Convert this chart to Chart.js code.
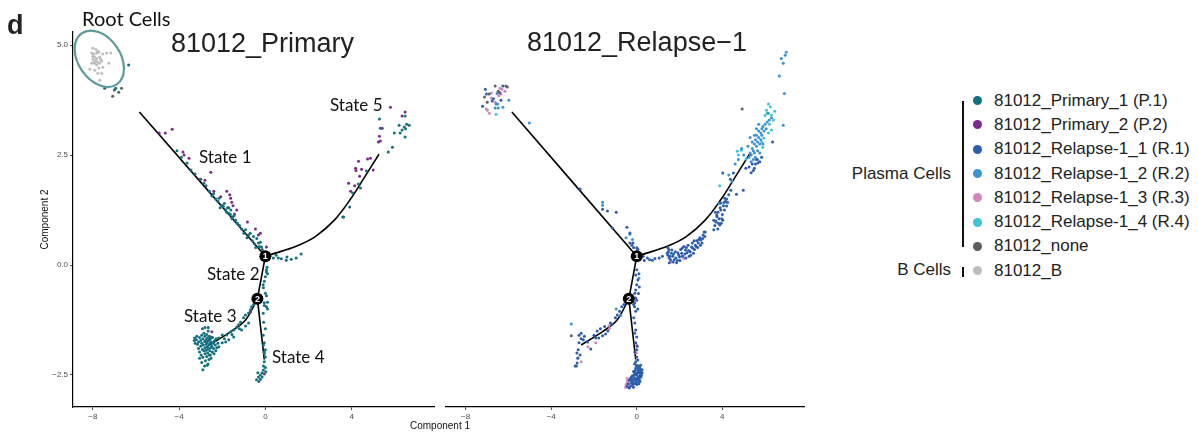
<!DOCTYPE html>
<html>
<head>
<meta charset="utf-8">
<script src="https://cdn.jsdelivr.net/npm/chart.js@4.4.1/dist/chart.umd.min.js"></script>
<style>
  body { margin: 0; background: #fff; overflow: hidden; }
  #fig { position: relative; width: 1199px; height: 436px; font-family: 'Liberation Sans', Arial, sans-serif; color: #1a1a1a; }
  canvas { position: absolute; top: 0; }
  #chartPrimary { left: 0; }
  #chartRelapse { left: 440px; }
  .t { position: absolute; white-space: nowrap; line-height: 1; }
  .myr { font-family: Lato, 'Open Sans', sans-serif; color: #111; }
  .panel-title { font-size: 27px; color: #222; }
  .state { font-size: 17px; }
  .leg { font-size: 17px; color: #222; }
  .dot { position: absolute; width: 9px; height: 9px; border-radius: 50%; }
  .bar { position: absolute; background: #111; width: 1.5px; }
</style>
</head>
<body>
<div id="fig">
  <canvas id="chartPrimary" width="440" height="436"></canvas>
  <canvas id="chartRelapse" width="370" height="436"></canvas>

  <div class="t" style="left:7px;top:12px;font-size:27px;font-weight:bold;color:#222;">d</div>
  <div class="t myr" style="left:82px;top:8px;font-size:20px;">Root Cells</div>
  <div class="t panel-title" style="left:171px;top:30px;">81012_Primary</div>
  <div class="t panel-title" style="left:527px;top:29px;">81012_Relapse−1</div>

  <div class="t myr state" style="left:199px;top:148px;">State 1</div>
  <div class="t myr state" style="left:330px;top:96px;">State 5</div>
  <div class="t myr state" style="left:207px;top:265px;">State 2</div>
  <div class="t myr state" style="left:184px;top:307px;">State 3</div>
  <div class="t myr state" style="left:272px;top:348px;">State 4</div>

  <div class="t" style="left:410px;top:421px;font-size:10px;color:#111;">Component 1</div>

  <div id="legend"></div>
</div>

<script>
// ---- data (Component 1, Component 2) ----
const xTicks = [-8, -4, 0, 4];
const yTicks = [-2.5, 0, 2.5, 5];

// trajectory tree (same for both panels)
const treeState1 = [[-5.84, 3.48], [0, 0.2]];
const treeState5 = [[0, 0.2], [0.46, 0.27], [1.4, 0.42], [2.3, 0.64], [3.2, 1.02], [3.95, 1.5], [4.6, 2.0], [5.27, 2.52]];
const treeState2 = [[0, 0.2], [-0.37, -0.77]];
const treeState3 = [[-0.37, -0.77], [-0.92, -1.25], [-1.55, -1.5], [-2.6, -1.82]];
const treeState4 = [[-0.37, -0.77], [-0.05, -2.15]];
const branchNodes = [[0, 0.2], [-0.37, -0.77]];
const rootCircle = [-7.7, 4.69];

// 81012_Primary panel
const priB = [
  [-8.0,4.93],[-7.86,4.9],[-8.05,4.82],[-7.95,4.8],[-7.82,4.82],[-7.72,4.84],[-7.91,4.73],[-7.82,4.7],[-8.0,4.68],
  [-7.68,4.73],[-7.36,4.82],[-7.17,4.82],[-7.54,4.8],[-7.77,4.61],[-7.91,4.59],[-7.59,4.64],[-8.05,4.59],[-7.82,4.55],
  [-7.68,4.59],[-7.26,4.59],[-8.14,4.45],[-7.91,4.43],[-7.72,4.48],[-7.54,4.5],[-7.77,4.36],[-7.59,4.36],[-7.68,4.2],
  [-8.0,4.75],[-7.77,4.86],[-7.86,4.66],[-7.95,4.62],[-7.64,4.68]
];
const priNone = [[-6.67,4.02],[-7.08,3.84],[-6.8,3.93]];
const priP1 = [
  [-6.34,4.55],[-7.45,4.02],[-6.94,4.02],[-7.0,3.98],
  [-4.1,2.6],[-3.9,2.45],[-3.63,2.32],[-3.45,2.16],[-3.26,2.07],[-3.0,1.95],[-2.85,1.86],[-2.75,1.8],[-2.6,1.68],
  [-2.48,1.57],[-2.4,1.62],[-2.3,1.5],[-2.2,1.45],[-2.15,1.52],[-2.1,1.3],[-2.02,1.36],[-1.95,1.33],[-1.9,1.4],
  [-1.84,1.25],[-1.8,1.2],[-1.75,1.3],[-1.7,1.18],[-1.62,1.15],[-1.6,1.25],[-1.55,1.05],[-1.52,1.09],[-1.45,1.12],
  [-1.38,1.02],[-1.3,0.95],[-1.2,0.9],[-1.1,0.82],[-1.0,0.72],[-0.92,0.8],[-0.85,0.62],[-0.78,0.68],[-0.7,0.72],
  [-0.6,0.55],[-0.55,0.65],[-0.5,0.48],[-0.45,0.4],[-0.4,0.6],[-0.32,0.5],[-0.28,0.42],[-0.23,0.52],[-0.18,0.41],
  [-0.15,0.35],[-0.1,0.3],
  [0.2,0.2],[0.37,0.16],[0.5,0.22],[0.6,0.16],[0.74,0.14],[0.97,0.11],[1.0,0.18],[1.2,0.13],[1.43,0.16],[1.66,0.25],
  [3.59,1.09],[3.63,1.09],[3.91,1.32],[4.05,1.64],[4.32,1.84],[4.41,1.75],[4.69,2.14],[5.7,2.57],[5.89,2.68],
  [5.29,3.32],[5.33,3.11],[5.98,3.0],[6.2,3.18],[6.25,3.0],[6.34,3.07],[6.44,3.14],[6.48,2.91],[6.48,3.39],
  [6.5,3.1],[6.55,3.2],[6.67,3.18],
  [0.08,-0.05],[0.05,-0.11],[0.05,-0.16],[0.1,-0.2],[0.0,-0.27],[-0.05,-0.37],[-0.1,-0.45],[-0.09,-0.52],[0.0,-0.64],
  [0.05,-0.7],[-0.18,-0.75],[0.1,-0.85],[-0.05,-0.86],[0.05,-0.95],[0.1,-1.0],
  [-2.16,-1.66],[-2.0,-1.59],[-1.79,-1.59],[-1.61,-1.52],[-1.47,-1.48],[-1.33,-1.41],[-1.24,-1.36],[-1.15,-1.3],
  [-1.01,-1.2],[-0.92,-1.14],[-0.78,-1.09],[-0.69,-1.02],[-0.64,-0.95],[-2.16,-1.86],[-2.0,-1.77],[-1.84,-1.75],
  [-1.7,-1.7],[-1.47,-1.64],[-1.1,-1.48],[-0.92,-1.39],[-0.78,-1.32],[-1.9,-1.68],[-1.55,-1.58],[-1.2,-1.45],
  [-0.55,-0.9],[-0.45,-0.85],
  [-3.3,-1.72],[-3.25,-1.78],[-3.2,-1.7],[-3.15,-1.8],[-3.1,-1.75],[-3.1,-1.9],[-3.05,-1.65],[-3.05,-1.98],[-3.0,-1.72],
  [-3.0,-1.85],[-2.98,-2.05],[-2.95,-1.6],[-2.95,-1.78],[-2.92,-1.92],[-2.9,-1.68],[-2.9,-2.1],[-2.88,-1.82],[-2.85,-1.55],
  [-2.85,-1.95],[-2.82,-1.74],[-2.8,-1.62],[-2.8,-1.88],[-2.8,-2.02],[-2.78,-2.18],[-2.76,-1.7],[-2.75,-1.8],[-2.74,-1.94],
  [-2.72,-1.58],[-2.72,-2.08],[-2.7,-1.76],[-2.7,-1.86],[-2.68,-1.66],[-2.68,-2.0],[-2.66,-2.25],[-2.65,-1.5],[-2.65,-1.9],
  [-2.62,-1.72],[-2.62,-1.82],[-2.6,-2.05],[-2.6,-1.62],[-2.58,-1.95],[-2.56,-1.78],[-2.55,-1.68],[-2.54,-1.88],[-2.52,-2.12],
  [-2.5,-1.75],[-2.48,-1.85],[-2.46,-1.98],[-2.45,-1.65],[-2.42,-1.78],[-2.4,-1.9],[-2.38,-2.02],[-2.35,-1.72],[-2.32,-1.82],
  [-2.3,-1.95],[-2.28,-1.68],[-2.25,-1.88],[-2.2,-1.78],[-2.82,-2.3],[-2.9,-2.38],[-2.7,-2.28],[-2.62,-2.15],[-3.18,-1.62],
  [-3.28,-1.66],[-2.92,-1.45],[-2.8,-1.42],[-2.65,-1.42],[-3.05,-2.12],[-2.95,-2.22],[-2.55,-2.05],
  [-0.09,-1.82],[0.0,-1.93],[-0.05,-2.02],[-0.05,-2.2],[-0.09,-2.3],[-0.23,-2.5],[-0.32,-2.55],[-0.23,-2.6],[-0.41,-2.61],
  [-0.09,-2.39],[0.0,-2.33],[-0.05,-1.77],[-0.1,-1.6],[-0.05,-1.98],[0.0,-2.09],[-0.35,-2.45],[-0.15,-2.45],[0.02,-2.43],
  [-0.3,-2.65],[-0.1,-1.1],[-0.08,-1.3],[0.0,-1.45],[-0.05,-0.92],[-0.15,-2.55]
];
const priP2 = [
  [-4.92,3.0],[-4.64,3.0],[-4.32,3.09],[-3.82,2.57],[-3.77,2.5],[-3.54,2.43],[-2.53,2.11],[-3.03,1.95],[-2.8,1.93],
  [-2.39,1.68],[-1.79,1.68],[-2.07,1.55],[-1.61,1.52],[-1.56,1.43],[-1.7,1.3],[-1.33,1.25],[-1.43,1.16],[-0.83,0.98],
  [-0.46,0.82],[-0.32,0.68],[0.05,0.41],[-0.23,0.72],[-1.65,1.6],[-1.5,1.35],
  [5.8,3.59],[6.48,3.48],[6.34,3.39],[5.29,2.93],[5.33,2.82],[5.24,2.8],[4.74,2.41],[4.87,2.43],[4.32,2.36],[4.18,2.2],
  [4.2,2.15],[4.46,2.18],[5.0,2.16],[4.37,2.02],[3.86,1.86],[4.14,1.8],[3.95,1.68],[5.42,3.11],
  [-2.48,-1.52],[-2.53,-1.64],[-2.71,-1.73],[-0.69,-1.07],[-2.6,-1.7],[-0.05,-2.48]
];

// 81012_Relapse-1 panel
const relR1 = [
  [-7.08,4.0],[-6.26,4.07],[-7.03,3.89],[-6.7,3.78],[-6.35,3.75],[-6.76,3.73],[-7.21,3.61],
  [-2.65,1.73],[-1.6,1.27],[-1.37,1.23],[-0.96,1.2],[-1.14,0.84],[-0.46,0.86],[-0.32,0.73],[-0.32,0.5],[-0.18,0.5],
  [0.0,0.39],[0.05,0.36],[-0.23,0.45],[-0.15,0.4],
  [0.3,0.2],[0.35,0.1],[0.5,0.16],[0.73,0.11],[1.05,0.16],[1.42,0.27],[1.45,0.4],[1.48,0.3],[1.51,0.16],[1.52,0.05],
  [1.55,0.2],[1.64,0.34],[1.68,0.2],[1.7,0.07],[1.75,0.12],[1.8,0.3],[1.83,0.16],[1.9,0.1],[1.96,0.23],[2.0,0.18],
  [2.05,0.35],[2.1,0.27],[2.15,0.2],[2.2,0.42],[2.28,0.34],[2.3,0.16],[2.35,0.28],[2.4,0.45],[2.45,0.2],[2.5,0.3],
  [2.56,0.41],[2.6,0.5],[2.65,0.27],[2.7,0.35],[2.74,0.45],[2.8,0.55],[2.85,0.4],[2.88,0.5],[2.95,0.62],[3.0,0.57],
  [3.05,0.5],[3.1,0.68],[3.15,0.75],[3.2,0.75],[3.6,0.8],[3.79,0.82],[3.88,0.91],[3.7,0.98],[3.65,0.9],[3.6,1.02],
  [3.7,1.0],[3.75,1.1],[3.74,1.14],[3.8,1.2],[3.85,1.05],[3.9,1.3],[3.95,0.95],[4.02,1.02],[4.0,1.15],[3.93,1.25],
  [4.05,1.35],[4.1,1.25],[4.15,1.45],[4.2,1.5],[4.2,1.34],[3.93,1.41],[4.11,1.52],[4.3,1.6],[4.66,1.61],[4.98,1.7],
  [4.4,1.7],[4.38,1.95],[4.52,2.09],[4.02,2.09],[5.1,2.2],[5.25,2.23],[5.35,2.1],[5.4,2.3],[5.45,2.15],[5.5,2.2],
  [5.55,2.3],[5.6,2.4],[5.66,2.32],[5.75,2.35],[5.84,2.45],[6.35,2.8],
  [1.46,0.22],[1.5,0.35],[1.58,0.12],[1.62,0.27],[1.72,0.25],[1.86,0.05],[1.92,0.28],[2.02,0.1],[2.12,0.38],[2.25,0.25],
  [2.32,0.4],[2.42,0.33],[2.52,0.22],[2.62,0.38],[2.68,0.55],[2.78,0.42],[2.9,0.58],[2.98,0.45],[3.08,0.6],[3.18,0.65],
  [3.68,1.2],[3.82,0.95],[3.98,1.05],[4.08,1.42],[4.25,1.42],[0.6,0.12],[0.85,0.15],[1.2,0.2],
  [0.0,-0.11],[-0.05,-0.23],[0.05,-0.34],[0.0,-0.45],[-0.05,-0.57],[-0.09,-0.64],[-0.05,-0.75],[0.0,-0.8],[-0.1,-0.86],
  [0.1,-0.2],[0.12,-0.5],[0.08,-0.65],[-0.15,-0.9],[-0.1,-0.95],[0.05,-1.0],[-0.05,-1.05],
  [-0.14,-1.2],[-0.09,-1.32],[-0.05,-1.48],[-0.1,-1.55],[0.0,-1.64],[-0.05,-1.77],[0.02,-1.85],[0.0,-1.93],[-0.09,-1.98],
  [0.0,-2.09],[0.05,-2.16],[-0.05,-2.2],
  [-0.1,-2.25],[0.0,-2.28],[0.1,-2.3],[0.15,-2.35],[-0.05,-2.35],[0.05,-2.4],[0.2,-2.4],[-0.15,-2.42],[0.1,-2.45],
  [0.25,-2.45],[-0.05,-2.48],[0.0,-2.5],[0.15,-2.5],[-0.2,-2.52],[0.05,-2.55],[0.2,-2.55],[-0.1,-2.57],[-0.3,-2.58],
  [0.0,-2.6],[0.12,-2.6],[-0.15,-2.62],[-0.35,-2.62],[0.05,-2.65],[-0.05,-2.67],[-0.25,-2.67],[0.15,-2.65],[-0.4,-2.7],
  [-0.1,-2.7],[0.0,-2.72],[-0.2,-2.73],[-0.3,-2.76],[-0.45,-2.76],[-0.15,-2.78],[-0.35,-2.8],[0.08,-2.35],[0.22,-2.5],
  [-0.08,-2.4],[0.1,-2.7],[-0.22,-2.6],[0.02,-2.45],[0.18,-2.28],[0.05,-2.58],[-0.12,-2.5],[-0.25,-2.55],[0.25,-2.38],
  [-0.02,-2.32],[0.12,-2.4],[-0.1,-2.45],[0.18,-2.45],[-0.28,-2.62],[-0.05,-2.62],[0.1,-2.55],[-0.18,-2.68],
  [-2.6,-1.55],[-2.7,-1.6],[-2.5,-1.7],[-2.7,-1.77],[-2.74,-1.93],[-2.8,-2.0],[-2.79,-2.23],[-2.88,-2.3],[-2.82,-2.3],
  [-2.15,-1.91],[-1.78,-1.66],[-1.92,-1.66],[-1.6,-1.61],[-1.46,-1.57],[-1.23,-1.32],[-1.0,-1.2],[-0.91,-1.14],
  [-2.6,-1.68],[-2.45,-1.62],[-2.3,-1.75],[-2.0,-1.6],[-1.85,-1.5],[-1.7,-1.45],[-1.5,-1.4],[-1.35,-1.5],[-1.15,-1.35],
  [-0.8,-1.05],[-0.7,-0.95],[-0.6,-0.9],[-2.65,-2.05],[-2.76,-2.12]
];
const relR2 = [
  [-6.53,3.9],[-5.98,3.75],[-6.58,3.66],[-6.5,3.66],[-6.62,3.57],[-6.48,3.57],[-6.26,3.59],
  [-5.02,3.23],[-1.6,1.43],[-1.6,1.36],[-0.32,0.7],[-0.5,0.62],[-0.2,0.58],
  [5.25,2.45],[5.3,2.55],[5.35,2.5],[5.4,2.65],[5.45,2.6],[5.5,2.75],[5.5,2.55],[5.55,2.85],[5.6,2.7],[5.6,2.95],
  [5.65,2.6],[5.65,2.8],[5.7,2.9],[5.7,3.05],[5.75,2.75],[5.75,2.55],[5.8,3.0],[5.8,2.85],[5.85,3.1],[5.85,2.95],
  [5.9,3.15],[5.95,3.05],[6.0,3.2],[6.05,3.1],[6.1,3.25],[5.4,2.8],[5.5,2.95],[5.45,2.4],[5.2,2.7],[5.3,2.9],[5.6,3.1],
  [5.7,3.2],[5.55,2.45],[5.65,2.4],[6.2,3.3],[6.3,3.35],[6.15,3.45],[5.35,2.35],[5.9,2.75],[4.75,2.4],[4.9,2.65],
  [5.0,2.5],[4.3,2.05],[4.45,1.9],[6.99,4.84],[6.94,4.77],[6.76,4.7],[6.85,4.59],[6.67,4.3],[6.9,3.9],[6.85,3.18],
  [3.85,1.4],[4.6,2.3],
  [0.1,-0.3],[-3.06,-1.34],[-0.96,-1.0],[-0.75,-1.15]
];
const relR3 = [
  [-6.4,4.02],[-6.3,4.0],[-6.35,3.89],[-6.16,3.95],[-6.8,3.91],[-6.8,3.8],[-6.62,3.7],[-7.03,3.55],[-6.98,3.52],
  [-6.9,3.45],[-6.45,3.85],
  [1.6,0.07],[2.1,0.2],[2.2,0.15],
  [0.0,-1.82],[-0.02,-2.0],
  [-0.45,-2.65],[-0.5,-2.72],[-0.4,-2.78],[-0.3,-2.7],[-0.2,-2.62],[-0.45,-2.58],[-0.15,-2.55],[-0.52,-2.78],
  [-2.74,-2.11],[-2.28,-1.86],[-1.92,-1.77],[-1.28,-1.45],[-2.6,-2.2],[-1.3,-1.38]
];
const relR4 = [
  [-6.58,3.43],
  [6.16,3.66],[6.07,3.52],[6.3,3.41],[6.39,3.3],[6.0,3.4],[6.1,3.45],[6.3,3.07],[6.16,3.0],[5.94,2.89],[5.85,2.8],
  [5.89,2.68],[4.89,2.61],[4.7,2.59],[4.75,2.5],[5.11,2.41],[6.45,3.5],[6.25,3.6],[3.88,1.8],[6.2,3.2]
];
const relNone = [
  [-6.62,4.07],[-6.12,4.07],[-6.05,4.05],[-6.48,3.95],[-6.4,3.92],[-6.9,3.89],[-7.12,3.82],[-6.99,3.7],
  [4.93,3.55],[-3.06,-1.61]
];

// legend
const legendLabels = ['81012_Primary_1 (P.1)', '81012_Primary_2 (P.2)', '81012_Relapse-1_1 (R.1)', '81012_Relapse-1_2 (R.2)',
  '81012_Relapse-1_3 (R.3)', '81012_Relapse-1_4 (R.4)', '81012_none', '81012_B'];
const legendColors = ['#12707f', '#7a2a8e', '#2d5eae', '#3c92d3', '#d086be', '#3ec4d3', '#5e5e5e', '#bdbdbd'];
const [cP1, cP2, cR1, cR2, cR3, cR4, cNone, cB] = legendColors;

// ---- helpers ----
function pts(arr){ return arr.map(p => ({x: p[0], y: p[1]})); }
function fmt(v, d){ const s = Math.abs(v).toFixed(d); return v < 0 ? '−' + s : s; }

function cells(data, color){
  return { type: 'scatter', data: pts(data), backgroundColor: color, pointRadius: 1.5, pointBorderWidth: 0, order: 5 };
}
function branch(data){
  return { type: 'line', data: pts(data), borderColor: '#000', borderWidth: 1.6, pointRadius: 0, tension: 0.35, fill: false, order: 9 };
}
function treeSets(){
  return [branch(treeState1), branch(treeState5), branch(treeState2), branch(treeState3), branch(treeState4),
    { type: 'scatter', data: pts(branchNodes), backgroundColor: '#000', pointRadius: 6, pointBorderWidth: 0, order: 0 }];
}

const nodeLabels = {
  id: 'nodeLabels',
  afterDatasetsDraw(chart){
    const ctx = chart.ctx, xs = chart.scales.x, ys = chart.scales.y;
    ctx.save();
    ctx.fillStyle = '#fff';
    ctx.font = 'bold 9px "Liberation Sans"';
    ctx.textAlign = 'center';
    ctx.textBaseline = 'middle';
    branchNodes.forEach((n, i) => ctx.fillText(String(i + 1), xs.getPixelForValue(n[0]), ys.getPixelForValue(n[1]) + 0.5));
    ctx.restore();
  }
};
const rootRing = {
  id: 'rootRing',
  afterDatasetsDraw(chart){
    const ctx = chart.ctx;
    const cx = chart.scales.x.getPixelForValue(rootCircle[0]);
    const cy = chart.scales.y.getPixelForValue(rootCircle[1]);
    ctx.save();
    ctx.beginPath();
    ctx.ellipse(cx, cy, 21, 31, -0.6, 0, Math.PI * 2);
    ctx.strokeStyle = '#5e9a9b';
    ctx.lineWidth = 2.2;
    ctx.stroke();
    ctx.restore();
  }
};

function xAxis(){
  return {
    type: 'linear', min: -8.92, max: 7.82,
    afterBuildTicks: s => { s.ticks = xTicks.map(v => ({value: v})); },
    afterFit: s => { s.height = 29; },
    ticks: { font: {family: 'Liberation Sans', size: 8}, color: '#4d4d4d', padding: 2, maxRotation: 0, autoSkip: false, callback: v => fmt(v, 0) },
    grid: { drawOnChartArea: false, tickLength: 3, color: '#4d4d4d' },
    border: { color: '#000', width: 1.2 }
  };
}
function yAxis(show){
  return {
    type: 'linear', min: -3.23, max: 5.3, display: show,
    afterBuildTicks: s => { s.ticks = yTicks.map(v => ({value: v})); },
    afterFit: s => { s.width = show ? 73 : 0; },
    ticks: { font: {family: 'Liberation Sans', size: 8}, color: '#4d4d4d', padding: 2, autoSkip: false, callback: v => fmt(v, 1) },
    grid: { drawOnChartArea: false, tickLength: 3, color: '#4d4d4d' },
    border: { color: '#000', width: 1.2 },
    title: { display: true, text: 'Component 2', font: {family: 'Liberation Sans', size: 10}, color: '#111', padding: {top: 39, bottom: 0} }
  };
}
function baseOptions(showY, pad){
  return {
    responsive: false, animation: false,
    layout: { padding: pad },
    plugins: { legend: { display: false }, tooltip: { enabled: false } },
    scales: { x: xAxis(), y: yAxis(showY) }
  };
}

const chartPrimary = new Chart(document.getElementById('chartPrimary'), {
  type: 'scatter',
  data: { datasets: [cells(priB, cB), cells(priNone, cNone), cells(priP1, cP1), cells(priP2, cP2), ...treeSets()] },
  options: baseOptions(true, {top: 32, right: 2, left: 0, bottom: 0}),
  plugins: [nodeLabels, rootRing]
});

const chartRelapse = new Chart(document.getElementById('chartRelapse'), {
  type: 'scatter',
  data: { datasets: [cells(relNone, cNone), cells(relR1, cR1), cells(relR2, cR2), cells(relR3, cR3), cells(relR4, cR4), ...treeSets()] },
  options: baseOptions(false, {top: 32, right: 3, left: 2, bottom: 0}),
  plugins: [nodeLabels]
});

// legend: grouped labels with brackets
const legend = document.getElementById('legend');
legendLabels.forEach((label, i) => {
  const base = 106 + i * 24.3;
  const dot = document.createElement('div');
  dot.className = 'dot';
  dot.style.left = '973px';
  dot.style.top = (base - 10) + 'px';
  dot.style.background = legendColors[i];
  legend.appendChild(dot);
  const t = document.createElement('div');
  t.className = 't leg';
  t.style.left = '994px';
  t.style.top = (base - 14.4) + 'px';
  t.textContent = label;
  legend.appendChild(t);
});
legend.insertAdjacentHTML('beforeend',
  '<div class="t leg" style="right:248px;top:164.6px;">Plasma Cells</div>' +
  '<div class="t leg" style="right:248px;top:260.6px;">B Cells</div>' +
  '<div class="bar" style="left:962px;top:101px;height:146px;"></div>' +
  '<div class="bar" style="left:962px;top:267px;height:10px;"></div>');
</script>
</body>
</html>
